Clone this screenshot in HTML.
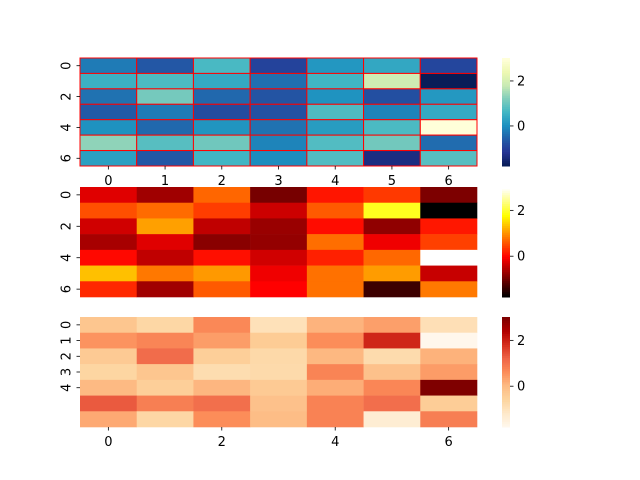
<!DOCTYPE html>
<html><head><meta charset="utf-8"><style>body{margin:0;background:#fff}svg{display:block;font-family:"DejaVu Sans","Liberation Sans",sans-serif}</style></head>
<body>
<svg id="fig" width="640" height="480"></svg>
<script>
const rowLabels=[0,1,2,3,4,5,6];
const colLabels=[0,1,2,3,4,5,6];
const row0=[-0.24,-0.68,0.70,-0.96,0.12,0.38,-0.92];
const row1=[0.54,0.74,0.41,-0.38,0.62,1.95,-1.78];
const row2=[-0.35,1.12,-0.46,-0.73,0.06,-0.79,0.14];
const row3=[-0.63,-0.24,-0.84,-0.76,0.76,-0.13,0.43];
const row4=[0.03,-0.46,0.08,-0.35,0.20,0.72,3.02];
const row5=[1.35,0.83,1.07,-0.13,0.78,1.09,-0.41];
const row6=[0.26,-0.68,0.62,-0.03,0.78,-1.37,0.84];
const data=[row0,row1,row2,row3,row4,row5,row6];
const cbTicks=[0,2];

const NS="http://www.w3.org/2000/svg";
const svg=document.getElementById('fig');
function mk(t,a,p){const e=document.createElementNS(NS,t);for(const k in a)e.setAttribute(k,a[k]);(p||svg).appendChild(e);return e;}
const flat=data.flat();const vmin=Math.min(...flat),vmax=Math.max(...flat);
function lerpTable(tab,t){t=Math.max(0,Math.min(1,t));const n=tab.length-1;const f=t*n;const i=Math.min(n-1,Math.floor(f));const u=f-i;
 const a=tab[i],b=tab[i+1];const c=[0,1,2].map(k=>Math.round(parseInt(a.substr(1+2*k,2),16)*(1-u)+parseInt(b.substr(1+2*k,2),16)*u));return `rgb(${c})`;}
const YlGnBu=['#ffffd9','#edf8b1','#c7e9b4','#7fcdbb','#41b6c4','#1d91c0','#225ea8','#253494','#081d58'];
const OrRd=['#fff7ec','#fee8c8','#fdd49e','#fdbb84','#fc8d59','#ef6548','#d7301f','#b30000','#7f0000'];
const cmaps={
 ylgnbu_r:t=>lerpTable(YlGnBu,1-t),
 hot:t=>{const r=Math.min(1,t/0.365),g=Math.max(0,Math.min(1,(t-0.365)/0.381)),b=Math.max(0,Math.min(1,(t-0.746)/0.254));return `rgb(${Math.round(r*255)},${Math.round(g*255)},${Math.round(b*255)})`;},
 orrd:t=>lerpTable(OrRd,t)
};
const X0=80,X1=477,CBX=502,CBW=8;
const panels=[
 {name:'top',y0:58,y1:166,cmap:'ylgnbu_r',lines:true,yt:[0,2,4,6],ytRows:[0,2,4,6],xt:[0,1,2,3,4,5,6]},
 {name:'middle',y0:187,y1:297,cmap:'hot',lines:false,yt:[0,2,4,6],ytRows:[0,2,4,6],xt:[]},
 {name:'bottom',y0:317,y1:427,cmap:'orrd',lines:false,yt:[0,1,2,3,4],ytRows:[0,1,2,3,4],xt:[0,2,4,6]}
];
panels.forEach(p=>{
 const g=mk('g',{});
 
 
 const cw=(X1-X0)/colLabels.length,ch=(p.y1-p.y0)/rowLabels.length;
 const xs=j=>X0+j*cw,ys=i=>p.y0+i*ch;
 data.forEach((row,i)=>row.forEach((v,j)=>{
  const r=mk('rect',{x:xs(j),y:ys(i),width:cw+0.3,height:ch+0.3,fill:cmaps[p.cmap]((v-vmin)/(vmax-vmin))},g);
  if(p.lines){r.setAttribute('stroke','#ff0000');r.setAttribute('stroke-width','1');r.setAttribute('width',cw);r.setAttribute('height',ch);}
  
  
 }));
 p.yt.forEach((lab,k)=>{const y=ys(p.ytRows[k])+ch/2;
  mk('line',{x1:X0-3.5,x2:X0,y1:y,y2:y,stroke:'#000','stroke-width':0.8},g);
  const t=mk('text',{x:0,y:0,'font-size':13,'text-anchor':'middle',transform:`translate(${X0-13},${y}) rotate(-90)`,'dominant-baseline':'central'},g);t.textContent=lab;
  
  
 });
 p.xt.forEach(lab=>{const x=xs(lab)+cw/2;
  mk('line',{x1:x,x2:x,y1:p.y1,y2:p.y1+3.5,stroke:'#000','stroke-width':0.8},g);
  const t=mk('text',{x:x,y:p.y1+19,'font-size':13,'text-anchor':'middle'},g);t.textContent=lab;
  
  
 });
 // colorbar
 const cb=mk('g',{});
 
 
 const N=60,h=(p.y1-p.y0);
 for(let k=0;k<N;k++){const t=k/(N-1);mk('rect',{x:CBX,y:p.y1-(k+1)*h/N,width:CBW,height:h/N+0.5,fill:cmaps[p.cmap](t)},cb);}
 cbTicks.forEach(v=>{const y=p.y1-(v-vmin)/(vmax-vmin)*h;
  mk('line',{x1:CBX+CBW,x2:CBX+CBW+3.5,y1:y,y2:y,stroke:'#000','stroke-width':0.8},cb);
  const t=mk('text',{x:CBX+CBW+7,y:y+4.5,'font-size':13},cb);t.textContent=v;
  
  
 });
});
</script>
</body></html>
